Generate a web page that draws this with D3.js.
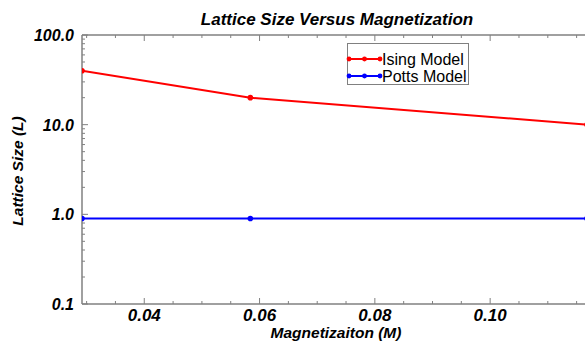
<!DOCTYPE html>
<html>
<head>
<meta charset="utf-8">
<script src="https://cdn.jsdelivr.net/npm/d3@7"></script>
<style>
  body { margin: 0; background: #fff; }
  svg { display: block; font-family: "Liberation Sans", Arial, sans-serif; }
</style>
</head>
<body>
<div id="chart"></div>
<script>
// data
var magnetization = [0.0292, 0.0584, 0.1168];
var isingSize = [40, 20, 10];
var pottsSize = [0.9, 0.9, 0.9];
var seriesNames = ["Ising Model", "Potts Model"];
var seriesColors = ["#ff0000", "#0000ff"];
var xTickValues = [0.04, 0.06, 0.08, 0.10];
var yTickValues = [0.1, 1, 10, 100];

var width = 585, height = 342;
var margin = { left: 82, top: 35, right: -2, bottom: 38 };

var svg = d3.select("#chart").append("svg")
	.attr("width", width)
	.attr("height", height);

var x = d3.scaleLinear()
	.domain([magnetization[0], magnetization[magnetization.length - 1]])
	.range([margin.left, width - margin.right]);

var y = d3.scaleLog()
	.domain([0.1, 100])
	.range([height - margin.bottom, margin.top]);

var axisColor = "#808080";

// minor ticks on x every 0.005
var xMinor = d3.range(0.03, 0.1175, 0.005).filter(function(v) {
	return v >= x.domain()[0] && v <= x.domain()[1];
});
// minor ticks on y, 2..9 of each decade
var yMinor = [];
[0.1, 1, 10].forEach(function(d) {
	for (var k = 2; k <= 9; k++) yMinor.push(d * k);
});

var xBottom = svg.append("g").attr("transform", "translate(0," + y.range()[0] + ")");
var xTop = svg.append("g").attr("transform", "translate(0," + y.range()[1] + ")");
var yLeft = svg.append("g").attr("transform", "translate(" + x.range()[0] + ",0)");

function drawXTicks(g, dir) {
	g.append("line").attr("x1", x.range()[0]).attr("x2", width).attr("stroke", axisColor).attr("stroke-width", 1.5);
	g.selectAll(".minor").data(xMinor).enter().append("line")
		.attr("x1", function(d) { return x(d); }).attr("x2", function(d) { return x(d); })
		.attr("y1", 0).attr("y2", function(d) {
			var major = xTickValues.some(function(t) { return Math.abs(t - d) < 1e-9; });
			return dir * (major ? 6 : 3);
		})
		.attr("stroke", axisColor).attr("stroke-width", 1);
}
drawXTicks(xBottom, -1);
drawXTicks(xTop, 1);

xBottom.selectAll("text").data(xTickValues).enter().append("text")
	.attr("x", function(d) { return x(d); })
	.attr("y", 17)
	.attr("text-anchor", "middle")
	.attr("font-size", "17px").attr("font-weight", "bold").attr("font-style", "italic")
	.text(function(d) { return d3.format(".2f")(d); });

yLeft.append("line").attr("y1", y.range()[0]).attr("y2", y.range()[1]).attr("stroke", axisColor).attr("stroke-width", 1.5);
yLeft.selectAll(".minor").data(yMinor).enter().append("line")
	.attr("y1", function(d) { return y(d); }).attr("y2", function(d) { return y(d); })
	.attr("x1", 0).attr("x2", 3)
	.attr("stroke", axisColor).attr("stroke-width", 1);
yLeft.selectAll(".major").data(yTickValues).enter().append("line")
	.attr("y1", function(d) { return y(d); }).attr("y2", function(d) { return y(d); })
	.attr("x1", 0).attr("x2", 6)
	.attr("stroke", axisColor).attr("stroke-width", 1);
yLeft.selectAll("text").data(yTickValues).enter().append("text")
	.attr("x", -8)
	.attr("y", function(d) { return y(d) + 6; })
	.attr("text-anchor", "end")
	.attr("font-size", "16px").attr("font-weight", "bold").attr("font-style", "italic")
	.text(function(d) { return d3.format(".1f")(d); });

// title and axis labels
svg.append("text")
	.attr("x", 337).attr("y", 25)
	.attr("text-anchor", "middle")
	.attr("font-size", "17px").attr("font-weight", "bold").attr("font-style", "italic")
	.text("Lattice Size Versus Magnetization");

svg.append("text")
	.attr("x", 336).attr("y", 338)
	.attr("text-anchor", "middle")
	.attr("font-size", "15.5px").attr("font-weight", "bold").attr("font-style", "italic")
	.text("Magnetizaiton (M)");

svg.append("text")
	.attr("transform", "translate(23,171) rotate(-90)")
	.attr("text-anchor", "middle")
	.attr("font-size", "15.5px").attr("font-weight", "bold").attr("font-style", "italic")
	.text("Lattice Size (L)");

// series
var series = [isingSize, pottsSize];
var line = d3.line()
	.x(function(d, i) { return x(magnetization[i]); })
	.y(function(d) { return y(d); });

svg.append("clipPath").attr("id", "clip").append("rect")
	.attr("x", x.range()[0]).attr("y", y.range()[1])
	.attr("width", width - x.range()[0]).attr("height", y.range()[0] - y.range()[1]);

series.forEach(function(vals, si) {
	var g = svg.append("g").attr("clip-path", "url(#clip)");
	g.append("path")
		.datum(vals)
		.attr("d", line)
		.attr("fill", "none")
		.attr("stroke", seriesColors[si])
		.attr("stroke-width", 2);
	g.selectAll("circle").data(vals).enter().append("circle")
		.attr("cx", function(d, i) { return x(magnetization[i]); })
		.attr("cy", function(d) { return y(d); })
		.attr("r", 2.8)
		.attr("fill", seriesColors[si]);
});

// legend
var legend = svg.append("g");
legend.append("rect")
	.attr("x", 347.5).attr("y", 43.5)
	.attr("width", 121).attr("height", 41)
	.attr("fill", "#fff").attr("stroke", axisColor).attr("stroke-width", 1);

seriesNames.forEach(function(name, i) {
	var ly = 59 + i * 17;
	legend.append("line")
		.attr("x1", 349).attr("x2", 380).attr("y1", ly).attr("y2", ly)
		.attr("stroke", seriesColors[i]).attr("stroke-width", 2);
	[349, 364.5, 380].forEach(function(cx) {
		legend.append("circle").attr("cx", cx).attr("cy", ly).attr("r", 2.4).attr("fill", seriesColors[i]);
	});
	legend.append("text")
		.attr("x", 382).attr("y", ly + 6)
		.attr("font-size", "16px")
		.text(name);
});
</script>
</body>
</html>
